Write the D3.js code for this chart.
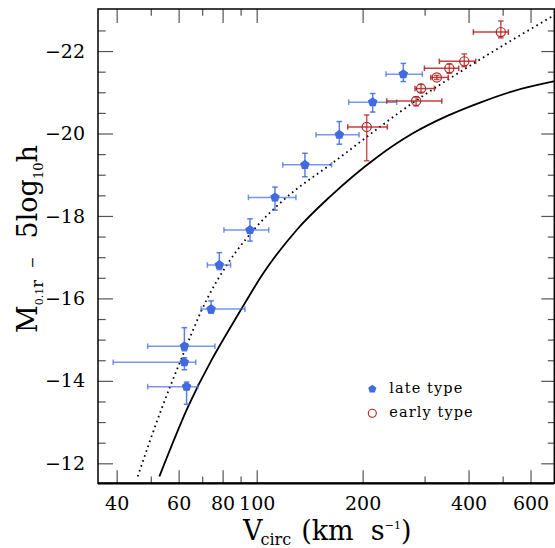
<!DOCTYPE html>
<html><head><meta charset="utf-8">
<script src="https://cdn.jsdelivr.net/npm/d3@7"></script>
<style>
body{margin:0;background:#fff}
svg{display:block}
text{font-family:"DejaVu Serif",serif}
</style>
</head><body><div id="chart"></div>
<script>
// ---- tick labels ----
const xMajorTicks = [40, 60, 80, 100, 200, 400, 600];
const xMinorTicks = [50, 70, 90, 300, 500, 700];
const yMajorTicks = [-22, -20, -18, -16, -14, -12];
const yMinorTicks = [-22.5, -21.5, -21, -20.5, -19.5, -19, -18.5, -17.5, -17, -16.5, -15.5, -15, -14.5, -13.5, -13, -12.5];

// ---- late type (blue) ----
const lateV    = [63.2, 62.3, 62.3, 74.2, 78.3, 95.7, 112.7, 137.1, 171.7, 213.6, 261.0];
const lateM    = [-13.86, -14.45, -14.84, -15.74, -16.81, -17.66, -18.45, -19.24, -19.97, -20.76, -21.44];
const lateVlo  = [49.0, 39.1, 49.0, 69.5, 72.4, 80.7, 94.7, 118.6, 147.4, 182.6, 233.1];
const lateVhi  = [68.0, 67.1, 76.1, 92.6, 84.3, 108.2, 129.3, 163.3, 195.4, 250.0, 295.6];
const lateMtop = [-13.97, -14.56, -15.29, -15.94, -17.11, -17.93, -18.70, -19.52, -20.29, -20.97, -21.70];
const lateMbot = [-13.43, -14.27, -14.73, -15.64, -16.70, -17.39, -18.14, -18.95, -19.74, -20.52, -21.26];

// ---- early type (red) ----
const earlyV    = [205.4, 283.8, 293.1, 324.9, 352.8, 389.0, 494.0];
const earlyM    = [-20.16, -20.79, -21.09, -21.36, -21.58, -21.75, -22.46];
const earlyVlo  = [181.4, 234.2, 281.8, 312.4, 299.6, 330.4, 412.8];
const earlyVhi  = [235.1, 335.7, 319.9, 350.4, 375.1, 419.2, 519.0];
const earlyMtop = [-20.45, -20.89, -21.19, -21.41, -21.69, -21.93, -22.73];
const earlyMbot = [-19.34, -20.67, -21.00, -21.31, -21.46, -21.62, -22.32];

// ---- dotted relation ----
const dotV = [45.9, 53.7, 60.5, 72.4, 77.3, 98.9, 116.5, 168.8, 285.0, 399.5, 701];
const dotM = [-11.68, -13.33, -14.45, -16.0, -16.44, -17.70, -18.31, -19.36, -20.81, -21.62, -22.87];

// ---- solid relation ----
const solV = [52.9, 63.5, 90.7, 104.4, 129.9, 161.6, 219.3, 278.7, 346.8, 431.2, 536.3, 704];
const solM = [-11.68, -13.33, -15.76, -16.61, -17.66, -18.47, -19.42, -20.01, -20.42, -20.75, -21.03, -21.27];

const legendLabels = ["late type", "early type"];

const W = 555, H = 548;
const L = 98, R = 554.3, T = 9, B = 483.3;
const BLUE = "#4169e1", RED = "#b22222";

const x = d3.scaleLog().domain([35.4, 701]).range([L, R]);
const y = d3.scaleLinear().domain([-11.515, -23.02]).range([B, T]);

const svg = d3.select("#chart").append("svg").attr("width", W).attr("height", H);

svg.append("defs").append("clipPath").attr("id", "clip")
  .append("rect").attr("x", L).attr("y", T).attr("width", R - L).attr("height", B - T);

function styleAxis(g, fs) {
  g.select(".domain").remove();
  g.attr("font-family", "DejaVu Serif").attr("font-size", fs);
  g.selectAll(".tick line").attr("stroke", "#555").attr("stroke-width", 1.2);
  g.selectAll(".tick text").attr("fill", "#000");
}

// bottom
svg.append("g").attr("transform", `translate(0,${B})`)
  .call(d3.axisBottom(x).tickValues(xMajorTicks).tickSize(-13).tickPadding(13).tickFormat(d3.format("d")))
  .call(g => styleAxis(g, 19));
svg.append("g").attr("transform", `translate(0,${B})`)
  .call(d3.axisBottom(x).tickValues(xMinorTicks).tickSize(-6.7).tickFormat(""))
  .call(g => styleAxis(g, 19));
// top
svg.append("g").attr("transform", `translate(0,${T})`)
  .call(d3.axisTop(x).tickValues(xMajorTicks).tickSize(-14).tickFormat(""))
  .call(g => styleAxis(g, 19));
svg.append("g").attr("transform", `translate(0,${T})`)
  .call(d3.axisTop(x).tickValues(xMinorTicks).tickSize(-6.7).tickFormat(""))
  .call(g => styleAxis(g, 19));
// left
svg.append("g").attr("transform", `translate(${L},0)`)
  .call(d3.axisLeft(y).tickValues(yMajorTicks).tickSize(-15).tickPadding(13).tickFormat(d => "\u2212" + Math.abs(d)))
  .call(g => styleAxis(g, 19));
svg.append("g").attr("transform", `translate(${L},0)`)
  .call(d3.axisLeft(y).tickValues(yMinorTicks).tickSize(-7.7).tickFormat(""))
  .call(g => styleAxis(g, 19));
// right
svg.append("g").attr("transform", `translate(${R},0)`)
  .call(d3.axisRight(y).tickValues(yMajorTicks).tickSize(-13).tickFormat(""))
  .call(g => styleAxis(g, 19));
svg.append("g").attr("transform", `translate(${R},0)`)
  .call(d3.axisRight(y).tickValues(yMinorTicks).tickSize(-6.5).tickFormat(""))
  .call(g => styleAxis(g, 19));

// frame
svg.append("rect").attr("x", L).attr("y", T).attr("width", R - L).attr("height", B - T)
  .attr("fill", "none").attr("stroke", "#000").attr("stroke-width", 1.5);
svg.append("line").attr("x1", L).attr("x2", R).attr("y1", B).attr("y2", B)
  .attr("stroke", "#000").attr("stroke-width", 2.2);

// curves
const line = d3.line().x(d => x(d[0])).y(d => y(d[1])).curve(d3.curveMonotoneX);
const plot = svg.append("g").attr("clip-path", "url(#clip)");
plot.append("path").datum(d3.zip(solV, solM)).attr("d", line)
  .attr("fill", "none").attr("stroke", "#000").attr("stroke-width", 1.8);
plot.append("path").datum(d3.zip(dotV, dotM)).attr("d", line)
  .attr("fill", "none").attr("stroke", "#000").attr("stroke-width", 1.8)
  .attr("stroke-dasharray", "1.6,3.6");

// error bars
function errorBars(g, V, M, Vlo, Vhi, Mtop, Mbot, color, opH, opV) {
  const cap = 2.8;
  V.forEach((v, i) => {
    const cy = y(M[i]), x1 = x(Vlo[i]), x2 = x(Vhi[i]);
    const cx = x(v), y1 = y(Mtop[i]), y2 = y(Mbot[i]);
    const gh = g.append("g").attr("stroke", color).attr("stroke-width", 1.5).attr("stroke-opacity", opH);
    gh.append("line").attr("x1", x1).attr("x2", x2).attr("y1", cy).attr("y2", cy);
    gh.append("line").attr("x1", x1).attr("x2", x1).attr("y1", cy - cap).attr("y2", cy + cap);
    gh.append("line").attr("x1", x2).attr("x2", x2).attr("y1", cy - cap).attr("y2", cy + cap);
    const gv = g.append("g").attr("stroke", color).attr("stroke-width", 1.5).attr("stroke-opacity", opV);
    gv.append("line").attr("x1", cx).attr("x2", cx).attr("y1", y1).attr("y2", y2);
    gv.append("line").attr("x1", cx - cap).attr("x2", cx + cap).attr("y1", y1).attr("y2", y1);
    gv.append("line").attr("x1", cx - cap).attr("x2", cx + cap).attr("y1", y2).attr("y2", y2);
  });
}
const gErr = svg.append("g");
errorBars(gErr, lateV, lateM, lateVlo, lateVhi, lateMtop, lateMbot, BLUE, 0.7, 0.85);
errorBars(gErr, earlyV, earlyM, earlyVlo, earlyVhi, earlyMtop, earlyMbot, RED, 0.85, 0.75);

function pentagon(r) {
  const pts = [];
  for (let i = 0; i < 5; i++) {
    const a = -Math.PI / 2 + i * 2 * Math.PI / 5;
    pts.push([r * Math.cos(a), r * Math.sin(a)]);
  }
  return "M" + pts.map(p => p.join(",")).join("L") + "Z";
}

svg.append("g").selectAll("path").data(d3.zip(lateV, lateM)).join("path")
  .attr("d", pentagon(5))
  .attr("transform", d => `translate(${x(d[0])},${y(d[1])})`)
  .attr("fill", BLUE);

svg.append("g").selectAll("circle").data(d3.zip(earlyV, earlyM)).join("circle")
  .attr("cx", d => x(d[0])).attr("cy", d => y(d[1])).attr("r", 4.6)
  .attr("fill", "none").attr("stroke", RED).attr("stroke-width", 1.2);

// legend
const lg = svg.append("g");
lg.append("path").attr("d", pentagon(4.3)).attr("transform", "translate(372.3,389)").attr("fill", BLUE);
lg.append("circle").attr("cx", 372.3).attr("cy", 413.3).attr("r", 4).attr("fill", "none")
  .attr("stroke", RED).attr("stroke-width", 1.1);
lg.selectAll("text").data(legendLabels).join("text")
  .attr("x", 389.3).attr("y", (d, i) => i === 0 ? 393.3 : 416.7)
  .attr("font-size", 14.5).attr("letter-spacing", 1.1).attr("fill", "#000")
  .text(d => d);

// x title
const xt = svg.append("text").attr("x", 243).attr("y", 540).attr("font-size", 27).attr("fill", "#000");
xt.append("tspan").text("V");
xt.append("tspan").attr("font-size", 16).attr("dx", -2).attr("dy", 4.5).text("circ");
xt.append("tspan").attr("dy", -4.5).attr("dx", 10).text("(km\u00a0\u00a0s");
xt.append("tspan").attr("font-size", 11).attr("dy", -11).text("\u22121");
xt.append("tspan").attr("dy", 11).text(")");

// y title
const yt = svg.append("text").attr("transform", "translate(37,333) rotate(-90)")
  .attr("font-size", 27).attr("fill", "#000");
yt.append("tspan").text("M");
yt.append("tspan").attr("font-size", 11).attr("dy", 6).text("0.1");
yt.append("tspan").attr("font-size", 16).text("r");
yt.append("tspan").attr("dy", -6).attr("dx", 12).attr("font-size", 14).text("\u2212");
yt.append("tspan").attr("dx", 18).text("5log");
yt.append("tspan").attr("font-size", 13).attr("dy", 6).text("10");
yt.append("tspan").attr("dy", -6).text("h");
</script>
</body></html>
